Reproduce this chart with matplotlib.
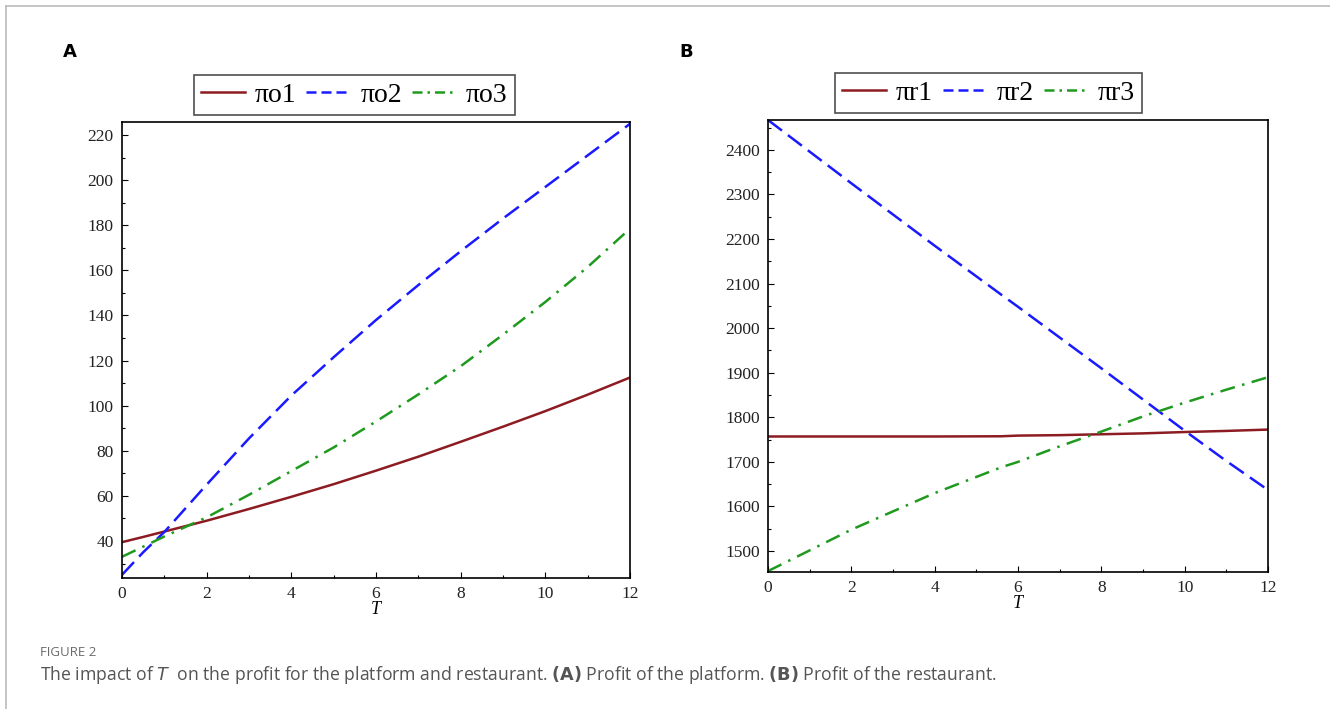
import matplotlib.pyplot as plt
import numpy as np
from matplotlib.lines import Line2D

# panel A - profit of the platform
T_a = [0, 0.5, 1, 2, 3, 4, 5, 6, 7, 8, 9, 10, 11, 12]
po1 = [39.5, 41.8, 44.2, 49.0, 54.2, 59.6, 65.2, 71.2, 77.4, 84.0, 90.7, 97.6, 104.9, 112.5]
po2 = [25.0, 35.0, 44.0, 65.0, 85.5, 104.5, 121.5, 138.0, 153.5, 168.5, 183.0, 197.0, 211.0, 225.0]
po3 = [33.0, 37.5, 42.0, 50.5, 60.5, 71.0, 81.5, 93.0, 105.0, 117.5, 131.5, 146.0, 161.5, 178.5]

# panel B - profit of the restaurant
T_b = [0, 2, 4, 5.6, 6, 7, 8, 9, 10, 11, 12]
pr1 = [1757, 1757, 1757, 1757.5, 1759, 1760, 1762, 1764, 1767, 1769.5, 1772.5]
pr2 = [2467, 2325, 2185, 2075, 2048, 1979, 1910, 1840, 1770, 1702, 1637]
pr3 = [1455, 1548, 1630, 1688, 1700, 1735, 1768, 1802, 1833, 1862, 1890]

RED = '#8c1c22'
BLUE = '#1a1aff'
GREEN = '#1f9a1f'
SERIF = 'Liberation Serif'

fig = plt.figure(figsize=(13.3, 7.09), dpi=100)
W, H = 1330, 709


def ax_at(l, t, r, b):
    return fig.add_axes([l / W, 1 - b / H, (r - l) / W, (b - t) / H])


def style(ax, xlim, ylim, yticks, yminor):
    ax.set_xlim(*xlim)
    ax.set_ylim(*ylim)
    ax.set_xticks(range(0, 13, 2))
    ax.set_xticks(range(1, 13, 2), minor=True)
    ax.set_yticks(yticks)
    ax.set_yticks(yminor, minor=True)
    ax.tick_params(which='both', direction='in', top=False, right=False, width=0.8)
    ax.tick_params(which='major', length=4, pad=6)
    ax.tick_params(which='minor', length=2.5)
    for lab in ax.get_xticklabels() + ax.get_yticklabels():
        lab.set_fontfamily(SERIF)
        lab.set_fontsize(12.5)
        lab.set_color('#222222')
    for s in ax.spines.values():
        s.set_linewidth(1.2)
    ax.set_xlabel('T', fontfamily=SERIF, fontstyle='italic', fontsize=13, labelpad=-1)


axA = ax_at(122, 122, 630, 578)
axA.plot(T_a, po1, color=RED, lw=1.8, ls='-')
axA.plot(T_a, po2, color=BLUE, lw=1.8, ls=(0, (7, 3)))
axA.plot(T_a, po3, color=GREEN, lw=1.8, ls=(0, (6, 3, 1, 3)))
style(axA, (0, 12), (23.6, 225.8), range(40, 221, 20), range(30, 221, 20))

axB = ax_at(768, 120, 1268, 572)
axB.plot(T_b, pr1, color=RED, lw=1.8, ls='-')
axB.plot(T_b, pr2, color=BLUE, lw=1.8, ls=(0, (7, 3)))
axB.plot(T_b, pr3, color=GREEN, lw=1.8, ls=(0, (6, 3, 1, 3)))
style(axB, (0, 12), (1453, 2467), range(1500, 2401, 100), range(1550, 2451, 100))


def legend(ax, names, x):
    handles = [Line2D([], [], color=RED, lw=1.8),
               Line2D([], [], color=BLUE, lw=1.8, ls=(0, (4, 2))),
               Line2D([], [], color=GREEN, lw=1.8, ls=(0, (4, 2, 1, 2)))]
    lg = ax.legend(handles, names, loc='lower center', bbox_to_anchor=(x, 1.01),
                   ncol=3, frameon=True, fancybox=False, edgecolor='#222222',
                   prop={'family': SERIF, 'size': 20}, handlelength=1.6,
                   handletextpad=0.35, columnspacing=0.35, borderpad=0.25,
                   borderaxespad=0.1)
    lg.get_frame().set_linewidth(1.2)


legend(axA, ['\u03c0o1', '\u03c0o2', '\u03c0o3'], 0.457)
legend(axB, ['\u03c0r1', '\u03c0r2', '\u03c0r3'], 0.441)

fig.text(70 / W, 1 - 52 / H, 'A', fontsize=13, fontweight='bold', va='center', ha='center')
fig.text(686 / W, 1 - 52 / H, 'B', fontsize=13, fontweight='bold', va='center', ha='center')

fig.text(40 / W, 1 - 652 / H, 'FIGURE 2', fontsize=9.5, color='#6b6b6b', va='center',
         fontfamily='Open Sans')
fig.text(40 / W, 1 - 675 / H,
         r'The impact of $\mathit{T}$  on the profit for the platform and restaurant. '
         r'$\mathbf{(A)}$ Profit of the platform. $\mathbf{(B)}$ Profit of the restaurant.',
         fontsize=12.7, color='#555555', va='center', fontfamily='Open Sans')

# outer frame
fig.add_artist(Line2D([6 / W, 6 / W], [0, 1 - 6 / H], color='#bbbbbb', lw=1.2))
fig.add_artist(Line2D([6 / W, 1], [1 - 6 / H, 1 - 6 / H], color='#bbbbbb', lw=1.2))

fig.savefig('out.png', dpi=100)
